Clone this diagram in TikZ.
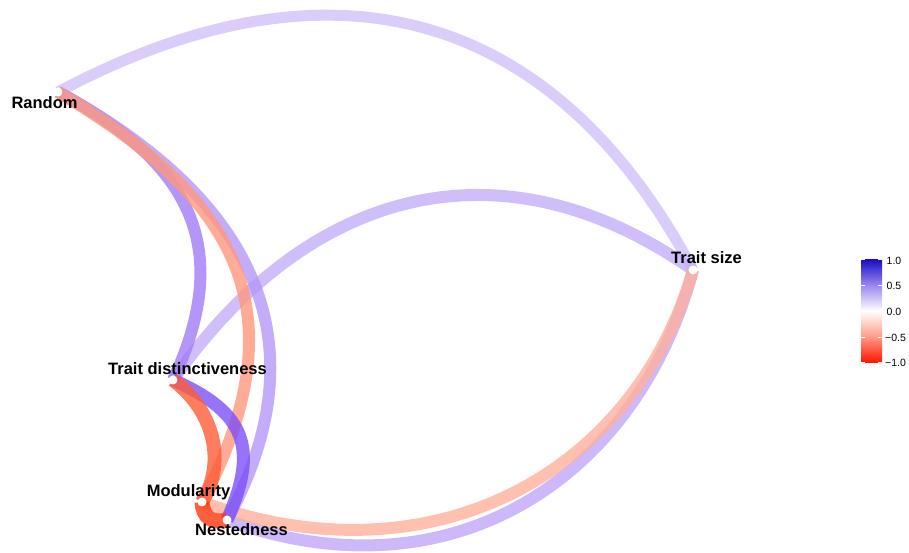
\documentclass[tikz,border=0pt]{standalone}
\usepackage{fontspec}
\setmainfont{Liberation Sans}
\definecolor{eRTS}{RGB}{209,192,249}
\definecolor{eTDTS}{RGB}{196,174,249}
\definecolor{eTSN}{RGB}{192,167,249}
\definecolor{eTSM}{RGB}{255,176,155}
\definecolor{eRTD}{RGB}{161,124,246}
\definecolor{eRM}{RGB}{255,151,124}
\definecolor{eRN}{RGB}{180,151,249}
\definecolor{eTDM}{RGB}{255,92,55}
\definecolor{eTDN}{RGB}{124,80,246}
\definecolor{eMN}{RGB}{255,55,11}
\definecolor{lgA}{RGB}{25,15,195}
\definecolor{lgB}{RGB}{155,135,240}
\definecolor{lgC}{RGB}{255,155,135}
\definecolor{lgD}{RGB}{255,20,0}
\tikzset{
  edge/.style={line width=12pt, opacity=0.8, line cap=butt},
  dot/.style={circle, fill=white, inner sep=0pt, minimum size=9pt},
  lab/.style={font=\bfseries\fontsize{16.5}{18}\selectfont, inner sep=0pt, anchor=base},
  ticklab/.style={font=\fontsize{10.5}{12}\selectfont, anchor=west, inner sep=0pt},
  tickmark/.style={draw=white, line width=0.8pt}
}
\begin{document}
\begin{tikzpicture}[x=1pt,y=1pt]
\useasboundingbox (0,0) rectangle (909,553);
\coordinate (R) at (58,461);
\coordinate (TS) at (693,283);
\coordinate (TD) at (173,173);
\coordinate (M) at (202,51);
\coordinate (N) at (227,33);
% edges
\draw[edge, line width=11pt, draw=eRTS] (R) to[out=28, in=118, out looseness=1.3, in looseness=1.05] (TS);
\draw[edge, draw=eTDTS] (TD) to[out=55, in=145, looseness=1.13] (TS);
\draw[edge, draw=eTSN] (N) to[out=-20, in=255, out looseness=1.15, in looseness=1.05] (TS);
\draw[edge, draw=eTSM] (M) to[out=-20, in=254, out looseness=1.15, in looseness=1.0] (TS);
\draw[edge, draw=eRTD] (R) to[out=-28, in=65, looseness=1.22] (TD);
\draw[edge, draw=eRN] (R) to[out=-28.5, in=61.5, looseness=1.18] (N);
\draw[edge, draw=eRM] (R) to[out=-30.6, in=62.4, looseness=1.25] (M);
\draw[edge, line width=13pt, draw=eTDN] (TD) to[out=-24, in=66, looseness=1.35] (N);
\draw[edge, line width=14pt, draw=eTDM] (TD) to[out=-36.6, in=58.4, looseness=1.0] (M);
\draw[edge, line width=15pt, draw=eMN] (M) to[out=-86, in=194, looseness=1.3] (N);
% dots
\node[dot] (Rd) at (R) {};
\node[dot] (TSd) at (TS) {};
\node[dot] (TDd) at (TD) {};
\node[dot] (Md) at (M) {};
\node[dot] (Nd) at (N) {};
% labels
\node[lab] (Rl) at (44.5,444) {Random};
\node[lab] (TSl) at (706.5,289) {Trait size};
\node[lab] (TDl) at (187.5,178) {Trait distinctiveness};
\node[lab] (Ml) at (188.5,56) {Modularity};
\node[lab] (Nl) at (241.5,17) {Nestedness};
% legend
\shade[top color=lgA, bottom color=white, middle color=lgB] (861,242) rectangle (882,293.5);
\shade[top color=white, bottom color=lgD, middle color=lgC] (861,190.5) rectangle (882,242);
\foreach \yy in {293.5,268,242,216,190.5}{
  \draw[tickmark] (861,\yy) -- (865,\yy);
  \draw[tickmark] (878,\yy) -- (882,\yy);
}
\node[ticklab] (t1) at (886.5,292.5) {1.0};
\node[ticklab] (t2) at (886.5,267.5) {0.5};
\node[ticklab] (t3) at (886.5,241.5) {0.0};
\node[ticklab] (t4) at (885,215.5) {−0.5};
\node[ticklab] (t5) at (885,190) {−1.0};
\end{tikzpicture}
\end{document}
